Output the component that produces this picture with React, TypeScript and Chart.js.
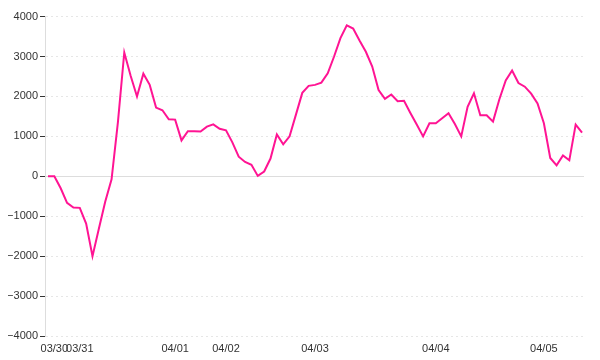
import React, { useEffect, useRef } from 'react';
import { Chart, registerables } from 'chart.js';

Chart.register(...registerables);

// Series values, one per sample (equally spaced along the category/time axis)
const values: number[] = [
  0, 0, -300, -665, -780, -790, -1185, -2000, -1315, -640,
  -75, 1355, 3100, 2520, 2000, 2570, 2290, 1720, 1655, 1430,
  1420, 900, 1130, 1130, 1120, 1245, 1300, 1190, 1150, 850,
  490, 360, 290, 10, 120, 445, 1050, 800, 1000, 1545,
  2090, 2265, 2290, 2345, 2580, 3000, 3460, 3780, 3700, 3400,
  3120, 2750, 2160, 1940, 2050, 1880, 1890, 1585, 1295, 1000,
  1330, 1330, 1455, 1580, 1310, 1000, 1740, 2080, 1530, 1530,
  1370, 1930, 2400, 2650, 2335, 2245, 2070, 1825, 1330, 460,
  275, 520, 400, 1295, 1095,
];

// Day labels and the sample index where each day begins
const dayLabels: string[] = ['03/30', '03/31', '04/01', '04/02', '04/03', '04/04', '04/05'];
const dayIndex: number[] = [1, 5, 20, 28, 42, 61, 78];

// Y axis range / step
const yMin = -4000;
const yMax = 4000;
const yStep = 1000;

export default function App() {
  const ref = useRef<HTMLCanvasElement>(null);

  useEffect(() => {
    if (!ref.current) return;
    const font = { family: "'Liberation Sans', Arial, sans-serif", size: 11 };
    const chart = new Chart(ref.current, {
      type: 'line',
      data: {
        datasets: [
          {
            data: values.map((v, i) => ({ x: i, y: v })),
            borderColor: '#ff1493',
            backgroundColor: '#ff1493',
            borderWidth: 2,
            pointRadius: 0,
            pointHoverRadius: 0,
            tension: 0,
            fill: false,
          },
        ],
      },
      options: {
        animation: false,
        responsive: true,
        maintainAspectRatio: false,
        layout: { padding: { top: 0, right: 8, bottom: 0, left: 0 } },
        plugins: { legend: { display: false }, tooltip: { enabled: false } },
        scales: {
          x: {
            type: 'linear',
            min: -0.47,
            max: values.length - 1 + 0.31,
            grid: { display: false, drawTicks: false },
            border: { display: false },
            afterBuildTicks: (s: any) => {
              s.ticks = dayIndex.map((v) => ({ value: v }));
            },
            afterFit: (s: any) => {
              s.height = 16;
            },
            ticks: {
              autoSkip: false,
              maxRotation: 0,
              minRotation: 0,
              padding: 6,
              color: '#333',
              font,
              callback: (v: any) => {
                const k = dayIndex.indexOf(Number(v));
                return k >= 0 ? dayLabels[k] : '';
              },
            },
          },
          y: {
            min: yMin,
            max: yMax,
            afterFit: (s: any) => {
              s.width = 37;
            },
            ticks: {
              stepSize: yStep,
              padding: 2,
              color: '#333',
              font,
              callback: (v: any) => {
                const n = Number(v);
                return n < 0 ? '\u2212' + String(Math.abs(n)) : String(n);
              },
            },
            grid: {
              color: (c: any) => (c.tick && c.tick.value === 0 ? '#dddddd' : '#e6e6e6'),
              tickColor: '#333',
              tickLength: 5,
              drawTicks: true,
              lineWidth: 1,
            },
            border: {
              display: true,
              color: '#dddddd',
              dash: (c: any) => (c.tick && c.tick.value !== 0 ? [2, 3] : []),
            },
          },
        },
      },
    });
    return () => chart.destroy();
  }, []);

  return (
    <div style={{ position: 'relative', width: 584, height: 344 }}>
      <canvas ref={ref} />
    </div>
  );
}
